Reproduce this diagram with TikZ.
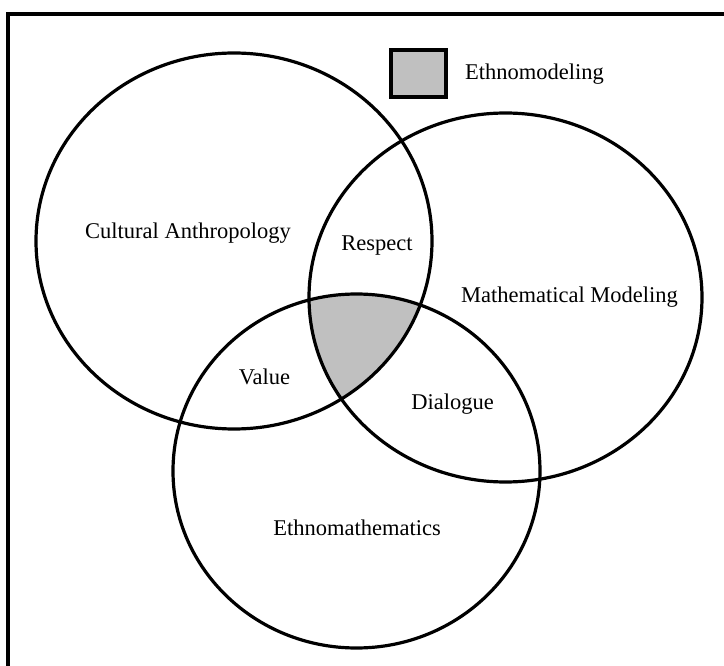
\documentclass[tikz,border=0pt]{standalone}
\usepackage{fontspec}
\setmainfont{Liberation Serif}
\begin{document}
\begin{tikzpicture}[x=1pt,y=-1pt,
  ring/.style={draw=black,line width=3.2pt},
  lbl/.style={font=\fontsize{22.5}{27}\selectfont,inner sep=0pt,anchor=base},
  shade/.style={fill={rgb,255:red,192;green,192;blue,192}}]
\useasboundingbox (0,0) rectangle (724,666);
\fill[white] (0,0) rectangle (724,666);
% frame (right and bottom edges lie outside the picture)
\coordinate (fbl) at (8,672);
\coordinate (ftl) at (8,14);
\coordinate (ftr) at (730,14);
\draw[line width=3.6pt] (fbl) -- (ftl) -- (ftr);
% centres
\coordinate (cA) at (234,241);
\coordinate (cM) at (505.5,297.5);
\coordinate (cE) at (356.5,471);
% shaded triple intersection
\begin{scope}
  \clip (cA) ellipse [x radius=198, y radius=188];
  \clip (cM) ellipse [x radius=196.5, y radius=184.5];
  \fill[shade] (cE) ellipse [x radius=183.5, y radius=177];
\end{scope}
\draw[ring] (cA) ellipse [x radius=198, y radius=188];
\draw[ring] (cM) ellipse [x radius=196.5, y radius=184.5];
\draw[ring] (cE) ellipse [x radius=183.5, y radius=177];
% legend
\node[shade,draw=black,line width=3.6pt,minimum width=55.5pt,minimum height=47.5pt,inner sep=0pt] (key) at (418.5,73.5) {};
\node[lbl,anchor=base west] (keytxt) at (465,80) {Ethnomodeling};
% labels
\node[lbl] (ca) at (188,239) {Cultural Anthropology};
\node[lbl] (re) at (377,251) {Respect};
\node[lbl] (mm) at (569.5,302) {Mathematical Modeling};
\node[lbl] (va) at (264.5,384) {Value};
\node[lbl] (di) at (452.5,409) {Dialogue};
\node[lbl] (em) at (357,535) {Ethnomathematics};
\end{tikzpicture}
\end{document}
